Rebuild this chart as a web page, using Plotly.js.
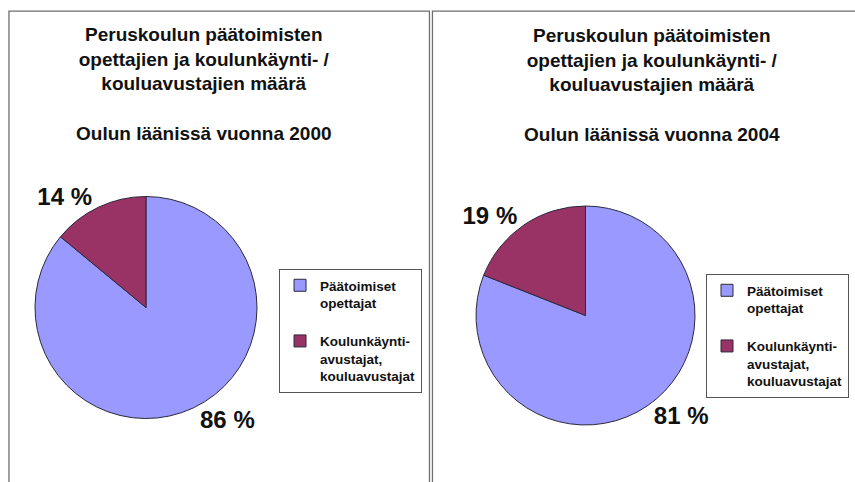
<!DOCTYPE html>
<html>
<head>
<meta charset="utf-8">
<script src="https://cdn.plot.ly/plotly-3.0.1.min.js"></script>
<style>
    html, body { margin: 0; padding: 0; background: #ffffff; }
    #chartDiv { width: 855px; height: 482px; }
</style>
</head>
<body>
<div id="chartDiv"></div>
<script>
// data
const years       = ["2000", "2004"];
const groupLabels = ["Päätoimiset<br>opettajat<br> ",
                     "Koulunkäynti-<br>avustajat,<br>kouluavustajat"];
const share2000   = [86, 14];
const share2004   = [81, 19];
const sliceColors = ["#9999ff", "#993366"];

const titleLines = ["Peruskoulun päätoimisten",
                    "opettajien ja koulunkäynti- /",
                    "kouluavustajien määrä"];

const FONT = "Liberation Sans, Arial, sans-serif";

// one pie per panel
// (pie legend items are merged by label, so the right pie gets an
//  invisible suffix to keep its own legend)
function makePie(values, labels, domain, legendName) {
    return {
        type          : "pie",
        labels        : labels,
        values        : values,
        sort          : false,
        direction     : "clockwise",
        rotation      : 0,
        domain        : domain,
        legend        : legendName,
        hoverinfo     : "none",
        textposition  : "outside",
        texttemplate  : "%{value} %",
        textfont      : { family: FONT, size: 24, weight: "bold", color: "#111111" },
        marker        : {
            colors : sliceColors,
            line   : { color: "#2a2a3a", width: 1 }
        }
    };
}

const pieLeft  = makePie(share2000, groupLabels,
                         { x: [0.0409, 0.3006], y: [0.1317, 0.5923] },
                         "legend");
const pieRight = makePie(share2004, groupLabels.map(l => l + "\u200b"),
                         { x: [0.5567, 0.8129], y: [0.1183, 0.5726] },
                         "legend2");

// panel titles as annotations (one layout title only)
function makeTitle(year, xCenter, yCenter) {
    return {
        xref      : "paper",
        yref      : "paper",
        x         : xCenter,
        y         : yCenter,
        xanchor   : "center",
        yanchor   : "middle",
        showarrow : false,
        align     : "center",
        text      : titleLines.join("<br>") + "<br><br>Oulun läänissä vuonna " + year,
        font      : { family: FONT, size: 19, weight: "bold", color: "#111111" }
    };
}

const legendStyle = {
    bgcolor     : "#ffffff",
    bordercolor : "#555555",
    borderwidth : 1,
    font        : { family: FONT, size: 13.5, weight: "bold", color: "#111111" },
    valign      : "top",
    xanchor     : "right",
    yanchor     : "top",
    traceorder  : "normal"
};

const layout = {
    width         : 855,
    height        : 482,
    margin        : { l: 0, r: 0, t: 0, b: 0 },
    paper_bgcolor : "#ffffff",
    plot_bgcolor  : "#ffffff",
    legend        : Object.assign({}, legendStyle, { x: 0.4936, y: 0.4419 }),
    legend2       : Object.assign({}, legendStyle, { x: 0.993, y: 0.4315 }),
    annotations   : [
        makeTitle(years[0], 0.2386, 0.825),
        makeTitle(years[1], 0.762, 0.823)
    ],
    // panel frames
    shapes        : [
        { type: "rect", xref: "paper", yref: "paper",
          x0: 0.0105, x1: 0.5023, y0: -0.2, y1: 0.977,
          line: { color: "#6e6e6e", width: 1.3 } },
        { type: "rect", xref: "paper", yref: "paper",
          x0: 0.5058, x1: 1.2, y0: -0.2, y1: 0.977,
          line: { color: "#6e6e6e", width: 1.3 } }
    ]
};

Plotly.newPlot("chartDiv", [pieLeft, pieRight], layout, { staticPlot: true });
</script>
</body>
</html>
